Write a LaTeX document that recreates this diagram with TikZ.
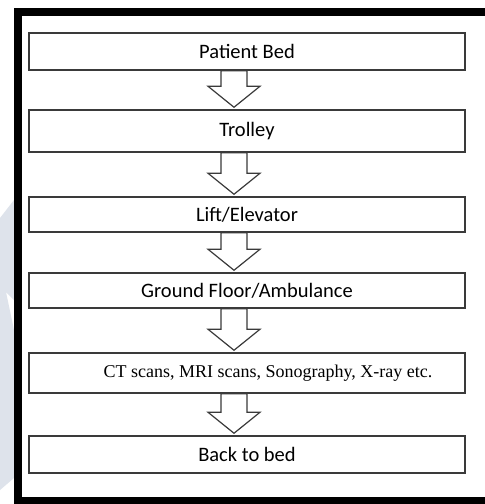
\documentclass[tikz,border=0pt]{standalone}
\usepackage{fontspec}
\setmainfont{Carlito}
\newfontfamily\timesfont{Liberation Serif}
\usepackage{xcolor}
\usetikzlibrary{calc}
\definecolor{BoxLine}{HTML}{3A3A3A}
\definecolor{Wmark}{HTML}{DEE3EB}
\tikzset{
  stepbox/.style={draw=BoxLine, line width=1.5pt, minimum width=436pt,
    inner sep=0pt, font=\fontsize{20.5}{24}\selectfont},
  arrowline/.style={draw=BoxLine, line width=1.2pt, fill=white, line join=miter},
  frameline/.style={line width=8pt, draw=black}
}
% hollow block arrow from the bottom of one box down to the next
\newcommand{\fatarrow}[2]{%
  \draw[arrowline] let \p1=($(#1.south)+(-13,0)$), \p2=(#2.north) in
    (\x1-13pt,\y1) -- (\x1-13pt,\y2+23pt) -- (\x1-26pt,\y2+23pt)
    -- (\x1,\y2+2pt) -- (\x1+26pt,\y2+23pt) -- (\x1+13pt,\y2+23pt)
    -- (\x1+13pt,\y1) -- cycle;}

\begin{document}
\begin{tikzpicture}[x=1pt, y=1pt]
  \useasboundingbox (0,0) rectangle (485,-504);
  \fill[white] (0,0) rectangle (485,-504);
  % faint watermark at the left edge
  \fill[Wmark] (0,-218) -- (14,-200) -- (14,-300) -- (6,-292) -- (14,-330)
    -- (14,-478) -- (0,-490) -- cycle;

  % frame
  \draw[frameline] (490,-12) -- (18,-12) -- (18,-501) -- (490,-501);

  % steps
  \node[stepbox, minimum height=37pt] (bed)     at (247,-51.5) {Patient Bed};
  \node[stepbox, minimum height=42pt] (trolley) at (247,-131)  {Trolley};
  \node[stepbox, minimum height=35pt] (lift)    at (247,-214.5) {Lift/Elevator};
  \node[stepbox, minimum height=35pt] (ground)  at (247,-290.5) {Ground Floor/Ambulance};
  \node[stepbox, minimum height=40pt,
        font=\timesfont\fontsize{18}{22}\selectfont] (scans) at (247,-373)
        {\hspace*{42pt}CT scans, MRI scans, Sonography, X-ray etc.};
  \node[stepbox, minimum height=37pt] (back)    at (247,-454.5) {Back to bed};

  % arrows
  \fatarrow{bed}{trolley}
  \fatarrow{trolley}{lift}
  \fatarrow{lift}{ground}
  \fatarrow{ground}{scans}
  \fatarrow{scans}{back}
\end{tikzpicture}
\end{document}
